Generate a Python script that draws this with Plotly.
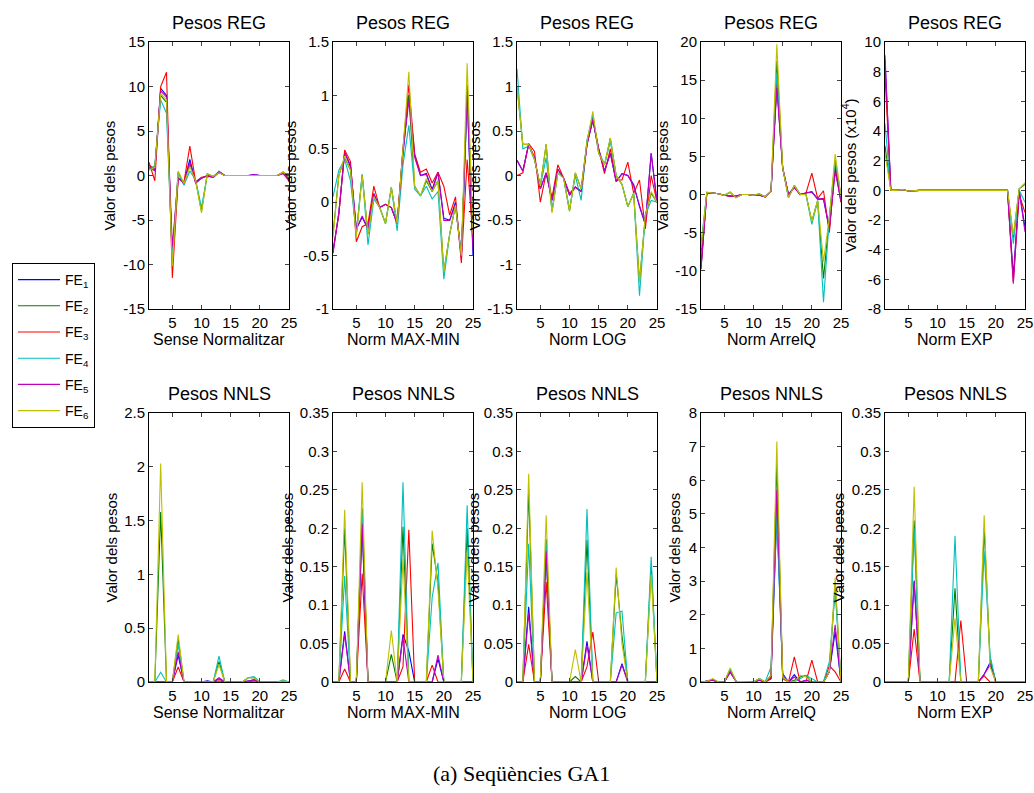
import plotly.graph_objects as go

W, H = 1034, 793
X = list(range(1, 26))
COLORS = ['#0000ff', '#008000', '#ff0000', '#00bfbf', '#bf00bf', '#bfbf00']
NAMES = ['FE<sub>%d</sub>' % i for i in range(1, 7)]

# ---------------- Pesos REG : Sense Normalitzar ----------------
reg_sn_fe1 = [1.2, 0.6, 9.8, 9.0, -9.5, -0.3, -0.8, 1.8, -0.8, -0.3, 0.0, -0.2, 0.4, 0, 0, 0, 0, 0, 0.1, 0, 0, 0, 0, 0.3, -0.4]
reg_sn_fe2 = [0.8, 1.0, 9.0, 8.2, -9.0, 0.4, -1.0, 1.2, -0.6, -4.0, 0.2, -0.1, 0.4, 0, 0, 0, 0, 0, 0, 0, 0, 0, 0, 0.4, -0.2]
reg_sn_fe3 = [1.5, -0.6, 10.0, 11.6, -11.5, -0.4, -0.7, 3.3, -0.7, -0.2, -0.1, -0.2, 0.3, 0, 0, 0, 0, 0, 0, 0, 0, 0, 0, 0.3, -0.5]
reg_sn_fe4 = [0.7, 1.1, 8.5, 7.0, -9.5, 0.3, -1.1, 0.5, -0.5, -3.6, 0.1, -0.2, 0.5, 0, 0, 0, 0, 0, 0, 0, 0, 0, 0, 0.3, -0.2]
reg_sn_fe5 = [1.0, 0.5, 9.5, 8.8, -8.0, -0.2, -0.9, 1.5, -0.9, -0.3, 0.0, -0.2, 0.4, 0, 0, 0, 0, 0, 0.1, 0, 0, 0, 0, 0.2, -0.6]
reg_sn_fe6 = [0.6, 0.9, 9.2, 8.5, -10.2, 0.5, -0.9, 1.0, -0.6, -4.2, 0.2, -0.1, 0.3, 0, 0, 0, 0, 0, 0, 0, 0, 0, 0, 0.4, -0.1]

# ---------------- Pesos REG : Norm MAX-MIN ----------------
reg_mm_fe1 = [-0.47, -0.1, 0.47, 0.33, -0.25, -0.14, -0.25, 0.08, -0.05, -0.02, -0.05, -0.2, 0.45, 1.0, 0.45, 0.25, 0.27, 0.12, 0.28, -0.15, -0.17, 0.0, -0.5, 1.0, -0.5]
reg_mm_fe2 = [-0.3, 0.25, 0.42, 0.3, -0.3, 0.26, -0.3, 0.05, -0.05, -0.2, 0.14, -0.2, 0.5, 1.0, 0.15, 0.06, 0.2, 0.1, 0.2, -0.65, -0.3, -0.03, -0.5, 1.1, -0.3]
reg_mm_fe3 = [-0.45, -0.12, 0.49, 0.38, -0.37, -0.23, -0.2, 0.15, -0.05, -0.02, -0.05, -0.2, 0.5, 1.1, 0.45, 0.28, 0.31, 0.18, 0.28, 0.15, -0.12, 0.05, -0.57, 0.4, -0.35]
reg_mm_fe4 = [0.05, 0.3, 0.4, 0.2, -0.3, 0.26, -0.4, 0.03, -0.05, -0.2, 0.14, -0.27, 0.35, 0.72, 0.12, 0.06, 0.15, 0.03, 0.1, -0.72, -0.3, -0.03, -0.5, 0.95, -0.25]
reg_mm_fe5 = [-0.48, -0.1, 0.46, 0.35, -0.25, -0.13, -0.25, 0.08, -0.05, -0.02, -0.05, -0.2, 0.48, 0.95, 0.42, 0.25, 0.26, 0.1, 0.28, -0.17, -0.17, -0.02, -0.52, 1.0, -0.45]
reg_mm_fe6 = [-0.33, 0.25, 0.43, 0.3, -0.33, 0.25, -0.3, 0.05, -0.05, -0.2, 0.14, -0.2, 0.5, 1.22, 0.15, 0.06, 0.22, 0.1, 0.2, -0.65, -0.3, -0.03, -0.5, 1.3, -0.3]

# ---------------- Pesos REG : Norm LOG ----------------
reg_log_fe1 = [0.17, 0.05, 0.35, 0.2, -0.15, 0.03, -0.28, 0.07, -0.03, -0.22, -0.13, -0.18, 0.35, 0.62, 0.3, 0.05, 0.25, -0.07, 0.02, 0.0, -0.1, -0.35, -0.55, 0.25, -0.3]
reg_log_fe2 = [1.0, 0.35, 0.35, 0.18, -0.12, 0.35, -0.4, 0.03, -0.03, -0.4, 0.03, -0.15, 0.38, 0.65, 0.25, 0.12, 0.42, 0.0, -0.1, -0.35, -0.2, -1.2, -0.45, -0.2, -0.3]
reg_log_fe3 = [0.0, 0.03, 0.36, 0.27, -0.3, 0.03, -0.25, 0.12, -0.03, -0.2, -0.13, -0.18, 0.35, 0.65, 0.3, 0.02, 0.3, -0.05, -0.05, 0.15, -0.2, -0.05, -0.6, 0.0, -0.3]
reg_log_fe4 = [1.2, 0.3, 0.33, 0.18, -0.12, 0.2, -0.4, 0.03, -0.03, -0.38, 0.0, -0.28, 0.4, 0.68, 0.28, 0.12, 0.38, 0.0, -0.1, -0.35, -0.2, -1.35, -0.45, -0.28, -0.3]
reg_log_fe5 = [0.17, 0.05, 0.35, 0.2, -0.15, 0.03, -0.28, 0.07, -0.03, -0.22, -0.13, -0.18, 0.35, 0.62, 0.3, 0.05, 0.25, -0.07, 0.02, 0.0, -0.12, -0.35, -0.55, 0.25, -0.3]
reg_log_fe6 = [1.0, 0.35, 0.35, 0.18, -0.12, 0.35, -0.42, 0.03, -0.03, -0.4, 0.03, -0.15, 0.38, 0.72, 0.25, 0.12, 0.42, 0.0, -0.1, -0.35, -0.2, -1.2, -0.45, -0.18, -0.3]

# ---------------- Pesos REG : Norm ArrelQ ----------------
reg_aq_fe1 = [-9.8, 0.2, 0.2, 0.1, -0.1, -0.2, -0.2, 0.0, 0.0, -0.1, -0.1, -0.3, 0.4, 14.5, 3.5, 0.0, 1.0, 0.0, 0.2, 0.4, -0.6, -0.6, -4.5, 3.5, -1.0]
reg_aq_fe2 = [-7.5, 0.3, 0.2, 0.1, -0.1, 0.3, -0.4, 0.0, 0.0, -0.1, 0.1, -0.3, 0.4, 17.5, 3.5, -0.4, 1.2, 0.0, 0.0, -3.5, -0.8, -11.0, -3.0, 4.5, -0.3]
reg_aq_fe3 = [-9.5, 0.2, 0.2, 0.1, -0.1, -0.2, -0.2, 0.0, 0.0, -0.1, -0.1, -0.3, 0.4, 15.0, 3.5, 0.0, 1.0, 0.0, 0.2, 2.8, -0.5, 0.5, -5.0, 4.0, -1.0]
reg_aq_fe4 = [-6.5, 0.3, 0.2, 0.1, -0.1, 0.3, -0.4, 0.0, 0.0, -0.1, 0.1, -0.3, 0.4, 16.0, 3.5, -0.4, 1.2, 0.0, 0.0, -3.9, -0.8, -14.1, -3.0, 4.5, -0.3]
reg_aq_fe5 = [-9.5, 0.2, 0.2, 0.1, -0.1, -0.2, -0.2, 0.0, 0.0, -0.1, -0.1, -0.3, 0.4, 14.0, 3.5, 0.0, 0.9, 0.0, 0.2, 0.3, -0.6, -0.5, -4.5, 3.0, -0.8]
reg_aq_fe6 = [-7.0, 0.3, 0.2, 0.1, -0.1, 0.3, -0.4, 0.0, 0.0, -0.1, 0.1, -0.3, 0.4, 19.7, 3.5, -0.4, 1.2, 0.0, 0.0, -3.5, -0.8, -8.8, -3.0, 5.3, -0.2]

# ---------------- Pesos REG : Norm EXP (x10^4) ----------------
reg_exp_fe1 = [8.8, 0, 0, 0.05, -0.05, 0, 0, 0, 0, 0, 0, 0, 0, 0, 0, 0, 0, 0, 0, 0, 0, 0, -5.8, 0.0, -2.5]
reg_exp_fe2 = [3.0, 0, 0, 0.05, -0.05, 0, 0, 0, 0, 0, 0, 0, 0, 0, 0, 0, 0, 0, 0, 0, 0, 0, -3.2, 0.1, 0.4]
reg_exp_fe3 = [7.8, 0, 0, 0.05, -0.05, 0, 0, 0, 0, 0, 0, 0, 0, 0, 0, 0, 0, 0, 0, 0, 0, 0, -6.2, -0.3, -1.5]
reg_exp_fe4 = [4.5, 0, 0, 0.05, -0.05, 0, 0, 0, 0, 0, 0, 0, 0, 0, 0, 0, 0, 0, 0, 0, 0, 0, -3.6, 0.0, -0.8]
reg_exp_fe5 = [9.1, 0, 0, 0.05, -0.05, 0, 0, 0, 0, 0, 0, 0, 0, 0, 0, 0, 0, 0, 0, 0, 0, 0, -6.3, 0.0, -2.8]
reg_exp_fe6 = [2.5, 0, 0, 0.05, -0.05, 0, 0, 0, 0, 0, 0, 0, 0, 0, 0, 0, 0, 0, 0, 0, 0, 0, -3.0, 0.1, 0.5]

# ---------------- Pesos NNLS : Sense Normalitzar ----------------
nnls_sn_fe1 = [0, 0, 0, 0, 0, 0.25, 0, 0, 0, 0, 0.01, 0, 0.03, 0, 0, 0, 0, 0.01, 0.02, 0, 0, 0, 0, 0, 0]
nnls_sn_fe2 = [0, 0, 1.58, 0, 0, 0.40, 0, 0, 0, 0, 0, 0, 0.19, 0, 0, 0, 0, 0.04, 0.04, 0, 0, 0, 0, 0.01, 0]
nnls_sn_fe3 = [0, 0, 0, 0, 0, 0.14, 0, 0, 0, 0, 0, 0, 0.01, 0, 0, 0, 0, 0, 0.01, 0, 0, 0, 0, 0, 0]
nnls_sn_fe4 = [0, 0, 0.09, 0, 0, 0.35, 0, 0, 0, 0, 0, 0, 0.24, 0, 0, 0, 0, 0.04, 0.05, 0, 0, 0, 0, 0.02, 0]
nnls_sn_fe5 = [0, 0, 0, 0, 0, 0.28, 0, 0, 0, 0, 0, 0, 0.04, 0, 0, 0, 0, 0.01, 0.02, 0, 0, 0, 0, 0, 0]
nnls_sn_fe6 = [0, 0, 2.03, 0, 0, 0.44, 0, 0, 0, 0, 0, 0, 0.16, 0, 0, 0, 0, 0.04, 0.04, 0, 0, 0, 0, 0.01, 0]

# ---------------- Pesos NNLS : Norm MAX-MIN ----------------
nnls_mm_fe1 = [0, 0, 0.066, 0, 0, 0.20, 0, 0, 0, 0, 0, 0, 0.062, 0.04, 0, 0, 0, 0, 0.03, 0, 0, 0, 0, 0, 0]
nnls_mm_fe2 = [0, 0, 0.20, 0, 0, 0.226, 0, 0, 0, 0, 0.036, 0, 0.202, 0, 0, 0, 0, 0.18, 0.13, 0, 0, 0, 0, 0.20, 0]
nnls_mm_fe3 = [0, 0, 0.017, 0, 0, 0.141, 0, 0, 0, 0, 0, 0, 0.02, 0.198, 0, 0, 0, 0.022, 0, 0, 0, 0, 0, 0, 0]
nnls_mm_fe4 = [0, 0, 0.138, 0, 0, 0.22, 0, 0, 0, 0, 0, 0, 0.26, 0, 0, 0, 0, 0.11, 0.155, 0, 0, 0, 0, 0.23, 0]
nnls_mm_fe5 = [0, 0, 0.062, 0, 0, 0.206, 0, 0, 0, 0, 0, 0, 0.058, 0, 0, 0, 0, 0, 0.035, 0, 0, 0, 0, 0, 0]
nnls_mm_fe6 = [0, 0, 0.224, 0, 0, 0.26, 0, 0, 0, 0, 0.067, 0, 0.16, 0, 0, 0, 0, 0.197, 0.12, 0, 0, 0, 0, 0.17, 0]

# ---------------- Pesos NNLS : Norm LOG ----------------
nnls_log_fe1 = [0, 0, 0.098, 0, 0, 0.165, 0, 0, 0, 0, 0, 0, 0.053, 0, 0, 0, 0, 0, 0.024, 0, 0, 0, 0, 0, 0]
nnls_log_fe2 = [0, 0, 0.25, 0, 0, 0.186, 0, 0, 0, 0, 0.007, 0, 0.185, 0, 0, 0, 0, 0.14, 0.06, 0, 0, 0, 0, 0.15, 0]
nnls_log_fe3 = [0, 0, 0.049, 0, 0, 0.13, 0, 0, 0, 0, 0, 0, 0.02, 0.065, 0, 0, 0, 0, 0, 0, 0, 0, 0, 0, 0]
nnls_log_fe4 = [0, 0, 0.18, 0, 0, 0.18, 0, 0, 0, 0, 0, 0, 0.225, 0, 0, 0, 0, 0.09, 0.092, 0, 0, 0, 0, 0.163, 0]
nnls_log_fe5 = [0, 0, 0.09, 0, 0, 0.17, 0, 0, 0, 0, 0, 0, 0.048, 0, 0, 0, 0, 0, 0.022, 0, 0, 0, 0, 0, 0]
nnls_log_fe6 = [0, 0, 0.271, 0, 0, 0.217, 0, 0, 0, 0, 0.042, 0, 0.143, 0, 0, 0, 0, 0.149, 0.05, 0, 0, 0, 0, 0.14, 0]

# ---------------- Pesos NNLS : Norm ArrelQ ----------------
nnls_aq_fe1 = [0, 0.02, 0.05, 0, 0, 0.30, 0.02, 0, 0, 0, 0.05, 0, 0.10, 5.0, 0.25, 0, 0.22, 0, 0.05, 0, 0, 0, 0.30, 1.5, 0]
nnls_aq_fe2 = [0, 0.02, 0.08, 0, 0, 0.38, 0.02, 0.02, 0, 0, 0.10, 0, 0.20, 6.5, 0.15, 0, 0.05, 0.15, 0.20, 0, 0, 0, 0.30, 2.9, 0]
nnls_aq_fe3 = [0, 0.02, 0.05, 0, 0, 0.30, 0.02, 0, 0, 0, 0.05, 0, 0.10, 5.7, 0.10, 0, 0.75, 0, 0, 0.65, 0, 0, 0.48, 0.3, 0]
nnls_aq_fe4 = [0, 0.02, 0.05, 0, 0, 0.35, 0.02, 0, 0, 0, 0.10, 0, 0.45, 5.0, 0.20, 0, 0, 0.10, 0.20, 0.10, 0, 0, 0.60, 2.7, 0]
nnls_aq_fe5 = [0, 0.02, 0.05, 0, 0, 0.30, 0.02, 0, 0, 0, 0.05, 0, 0.15, 5.7, 0.20, 0, 0.15, 0, 0.05, 0, 0, 0, 0.30, 1.7, 0]
nnls_aq_fe6 = [0, 0.02, 0.10, 0, 0, 0.42, 0.02, 0.02, 0, 0, 0.10, 0, 0.20, 7.15, 0.15, 0, 0, 0.20, 0.15, 0, 0, 0, 0.30, 3.1, 0]

# ---------------- Pesos NNLS : Norm EXP ----------------
nnls_exp_fe1 = [0, 0, 0, 0, 0, 0.132, 0, 0, 0, 0, 0, 0, 0, 0, 0, 0, 0, 0.01, 0.025, 0, 0, 0, 0, 0, 0]
nnls_exp_fe2 = [0, 0, 0, 0, 0, 0.21, 0, 0, 0, 0, 0, 0, 0.122, 0, 0, 0, 0, 0.20, 0.03, 0, 0, 0, 0, 0, 0]
nnls_exp_fe3 = [0, 0, 0, 0, 0, 0.069, 0, 0, 0, 0, 0, 0, 0, 0.08, 0, 0, 0, 0.008, 0, 0, 0, 0, 0, 0, 0]
nnls_exp_fe4 = [0, 0, 0, 0, 0, 0.20, 0, 0, 0, 0, 0, 0, 0.19, 0, 0, 0, 0, 0.17, 0.035, 0, 0, 0, 0, 0, 0]
nnls_exp_fe5 = [0, 0, 0, 0, 0, 0.13, 0, 0, 0, 0, 0, 0, 0, 0, 0, 0, 0, 0.01, 0.022, 0, 0, 0, 0, 0, 0]
nnls_exp_fe6 = [0, 0, 0, 0, 0, 0.254, 0, 0, 0, 0, 0, 0, 0.083, 0, 0, 0, 0, 0.217, 0.02, 0, 0, 0, 0, 0, 0]

# tick labels
ticks_reg_sn = ['-15', '-10', '-5', '0', '5', '10', '15']
ticks_reg_mm = ['-1', '-0.5', '0', '0.5', '1', '1.5']
ticks_reg_log = ['-1.5', '-1', '-0.5', '0', '0.5', '1', '1.5']
ticks_reg_aq = ['-15', '-10', '-5', '0', '5', '10', '15', '20']
ticks_reg_exp = ['-8', '-6', '-4', '-2', '0', '2', '4', '6', '8', '10']
ticks_nnls_sn = ['0', '0.5', '1', '1.5', '2', '2.5']
ticks_nnls_small = ['0', '0.05', '0.1', '0.15', '0.2', '0.25', '0.3', '0.35']
ticks_nnls_aq = ['0', '1', '2', '3', '4', '5', '6', '7', '8']
xticks = [5, 10, 15, 20, 25]

YL = 'Valor dels pesos'
panels = [
    # series, row, left px, y-range, tick labels, title, xlabel, ylabel, ylabel offset
    ([reg_sn_fe1, reg_sn_fe2, reg_sn_fe3, reg_sn_fe4, reg_sn_fe5, reg_sn_fe6], 0, 149, (-15, 15), ticks_reg_sn, 'Pesos REG', 'Sense Normalitzar', YL, 40),
    ([reg_mm_fe1, reg_mm_fe2, reg_mm_fe3, reg_mm_fe4, reg_mm_fe5, reg_mm_fe6], 0, 333, (-1, 1.5), ticks_reg_mm, 'Pesos REG', 'Norm MAX-MIN', YL, 43),
    ([reg_log_fe1, reg_log_fe2, reg_log_fe3, reg_log_fe4, reg_log_fe5, reg_log_fe6], 0, 517, (-1.5, 1.5), ticks_reg_log, 'Pesos REG', 'Norm LOG', YL, 43),
    ([reg_aq_fe1, reg_aq_fe2, reg_aq_fe3, reg_aq_fe4, reg_aq_fe5, reg_aq_fe6], 0, 701, (-15, 20), ticks_reg_aq, 'Pesos REG', 'Norm ArrelQ', YL, 39),
    ([reg_exp_fe1, reg_exp_fe2, reg_exp_fe3, reg_exp_fe4, reg_exp_fe5, reg_exp_fe6], 0, 885, (-8, 10), ticks_reg_exp, 'Pesos REG', 'Norm EXP', 'Valor dels pesos (x10<sup>4</sup>)', 36),
    ([nnls_sn_fe1, nnls_sn_fe2, nnls_sn_fe3, nnls_sn_fe4, nnls_sn_fe5, nnls_sn_fe6], 1, 149, (0, 2.5), ticks_nnls_sn, 'Pesos NNLS', 'Sense Normalitzar', YL, 38),
    ([nnls_mm_fe1, nnls_mm_fe2, nnls_mm_fe3, nnls_mm_fe4, nnls_mm_fe5, nnls_mm_fe6], 1, 333, (0, 0.35), ticks_nnls_small, 'Pesos NNLS', 'Norm MAX-MIN', YL, 46),
    ([nnls_log_fe1, nnls_log_fe2, nnls_log_fe3, nnls_log_fe4, nnls_log_fe5, nnls_log_fe6], 1, 517, (0, 0.35), ticks_nnls_small, 'Pesos NNLS', 'Norm LOG', YL, 44),
    ([nnls_aq_fe1, nnls_aq_fe2, nnls_aq_fe3, nnls_aq_fe4, nnls_aq_fe5, nnls_aq_fe6], 1, 701, (0, 8), ticks_nnls_aq, 'Pesos NNLS', 'Norm ArrelQ', YL, 27),
    ([nnls_exp_fe1, nnls_exp_fe2, nnls_exp_fe3, nnls_exp_fe4, nnls_exp_fe5, nnls_exp_fe6], 1, 885, (0, 0.35), ticks_nnls_small, 'Pesos NNLS', 'Norm EXP', YL, 47),
]

ROWS = [(42, 309), (413, 682)]
PW = 140
FONT = 'Liberation Sans, Arial, sans-serif'

fig = go.Figure()
annotations = []
layout = {}
for i, (series, row, left, yr, tlabels, title, xlab, ylab, yoff) in enumerate(panels):
    n = i + 1
    xa = 'xaxis' if n == 1 else 'xaxis%d' % n
    ya = 'yaxis' if n == 1 else 'yaxis%d' % n
    xr = 'x' if n == 1 else 'x%d' % n
    yrf = 'y' if n == 1 else 'y%d' % n
    top, bot = ROWS[row]
    tvals = [float(t) for t in tlabels]
    common = dict(ticks='inside', ticklen=4, mirror='allticks', showline=True,
                  linecolor='black', linewidth=1, showgrid=False, zeroline=False,
                  automargin=False, fixedrange=True,
                  tickfont=dict(family=FONT, size=15, color='black'))
    layout[xa] = dict(domain=[left / W, (left + PW) / W], range=[1, 25], anchor=yrf,
                      tickvals=xticks, ticktext=[str(v) for v in xticks], **common)
    layout[ya] = dict(domain=[1 - bot / H, 1 - top / H], range=list(yr), anchor=xr,
                      tickvals=tvals, ticktext=tlabels, **common)
    for k, s in enumerate(series):
        fig.add_trace(go.Scatter(x=X, y=s, mode='lines', xaxis=xr, yaxis=yrf,
                                 line=dict(color=COLORS[k], width=1.1),
                                 name=NAMES[k], legendgroup='g%d' % k,
                                 showlegend=(i == 0), hoverinfo='skip'))
    cx = (left + PW / 2) / W
    annotations.append(dict(text=title, x=cx, y=1 - (top - 19) / H, xref='paper', yref='paper',
                            showarrow=False, xanchor='center', yanchor='middle',
                            font=dict(family=FONT, size=18, color='black')))
    annotations.append(dict(text=xlab, x=cx, y=1 - (bot + 30) / H, xref='paper', yref='paper',
                            showarrow=False, xanchor='center', yanchor='middle',
                            font=dict(family=FONT, size=16, color='black')))
    annotations.append(dict(text=ylab, x=(left - yoff) / W, y=1 - (top + bot) / 2 / H,
                            xref='paper', yref='paper', textangle=-90,
                            showarrow=False, xanchor='center', yanchor='middle',
                            font=dict(family=FONT, size=15, color='black')))

annotations.append(dict(text='(a) Seqüències GA1', x=521 / W, y=1 - 773 / H, xref='paper', yref='paper',
                        showarrow=False, xanchor='center', yanchor='middle',
                        font=dict(family='Liberation Serif, DejaVu Serif, serif', size=22, color='black')))

fig.update_layout(
    width=W, height=H, margin=dict(l=0, r=0, t=0, b=0, pad=0, autoexpand=False),
    paper_bgcolor='white', plot_bgcolor='white',
    annotations=annotations,
    showlegend=True,
    legend=dict(x=12 / W, y=1 - 263 / H, xanchor='left', yanchor='top',
                bordercolor='black', borderwidth=1, bgcolor='white',
                font=dict(family=FONT, size=14, color='black'),
                tracegroupgap=5, itemwidth=42, traceorder='grouped'),
    **layout
)

fig.write_html('out.html', config={'displayModeBar': False, 'responsive': False},
               post_script="document.body.style.margin='0';document.body.style.padding='0';document.body.style.overflow='hidden';")
